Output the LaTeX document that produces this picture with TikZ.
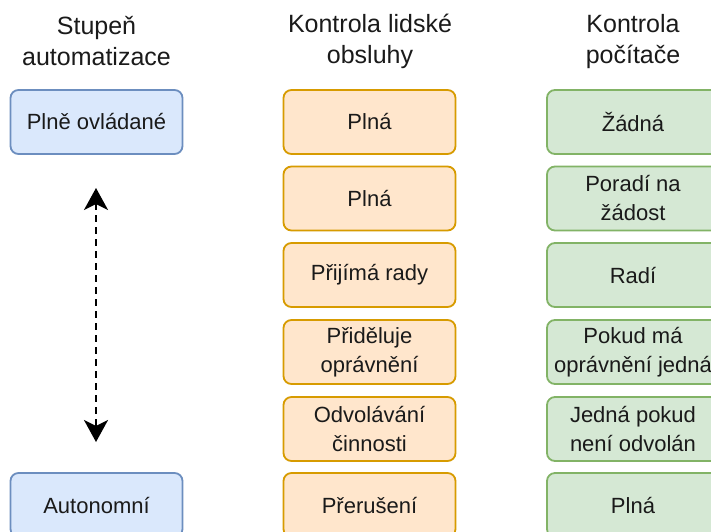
\documentclass[tikz,border=0pt]{standalone}
\usepackage{fontspec}
\setmainfont{Liberation Sans}
\usetikzlibrary{arrows.meta}
\definecolor{blueFill}{HTML}{DAE8FC}
\definecolor{blueLine}{HTML}{6C8EBF}
\definecolor{orangeFill}{HTML}{FFE6CC}
\definecolor{orangeLine}{HTML}{D79B00}
\definecolor{greenFill}{HTML}{D5E8D4}
\definecolor{greenLine}{HTML}{82B366}
\definecolor{inkText}{HTML}{1A1A1A}
\tikzset{
  cell/.style={rectangle, rounded corners=8pt, line width=1.8pt,
    minimum width=172pt, minimum height=64pt, inner sep=0pt,
    align=center, text=inkText, font=\fontsize{22}{29}\selectfont},
  levelbox/.style={cell, fill=blueFill, draw=blueLine},
  humanbox/.style={cell, fill=orangeFill, draw=orangeLine},
  computerbox/.style={cell, fill=greenFill, draw=greenLine},
  header/.style={align=center, inner sep=0pt, text=inkText,
    font=\fontsize{25}{31}\selectfont},
}
\begin{document}
\begin{tikzpicture}[x=1pt, y=-1pt]
\useasboundingbox (0,0) rectangle (711,531);
\clip (0,0) rectangle (711,531);
\fill[white] (0,0) rectangle (711,531);

% column headings
\node[header] (hLevel) at (96.5,41.5) {Stupeň\\automatizace};
\node[header] (hHuman) at (370,41.5) {Kontrola lidské\\obsluhy};
\node[header] (hComp) at (633,41.5) {Kontrola\\počítače};

% level of automation
\node[levelbox] (l1) at (96.5,122) {Plně ovládané};
\node[levelbox] (l6) at (96.5,505) {Autonomní};

% human control
\node[humanbox] (h1) at (369.5,122) {Plná};
\node[humanbox] (h2) at (369.5,198.5) {Plná};
\node[humanbox] (h3) at (369.5,275) {Přijímá rady};
\node[humanbox] (h4) at (369.5,352) {Přiděluje\\oprávnění};
\node[humanbox] (h5) at (369.5,429) {Odvolávání\\činnosti};
\node[humanbox] (h6) at (369.5,505) {Přerušení};

% computer control
\node[computerbox] (c1) at (633,122) {Žádná};
\node[computerbox] (c2) at (633,198.5) {Poradí na\\žádost};
\node[computerbox] (c3) at (633,275) {Radí};
\node[computerbox] (c4) at (633,352) {Pokud má\\oprávnění jedná};
\node[computerbox] (c5) at (633,429) {Jedná pokud\\není odvolán};
\node[computerbox] (c6) at (633,505) {Plná};

% scale arrow between the two extremes
\coordinate (arrTop) at (96,188);
\coordinate (arrBot) at (96,442);
\draw[line width=2.3pt, dash pattern=on 7pt off 5pt,
  {Stealth[length=22pt,width=24pt,inset=6pt]}-{Stealth[length=22pt,width=24pt,inset=6pt]}]
  (arrTop) -- (arrBot);
\end{tikzpicture}
\end{document}
